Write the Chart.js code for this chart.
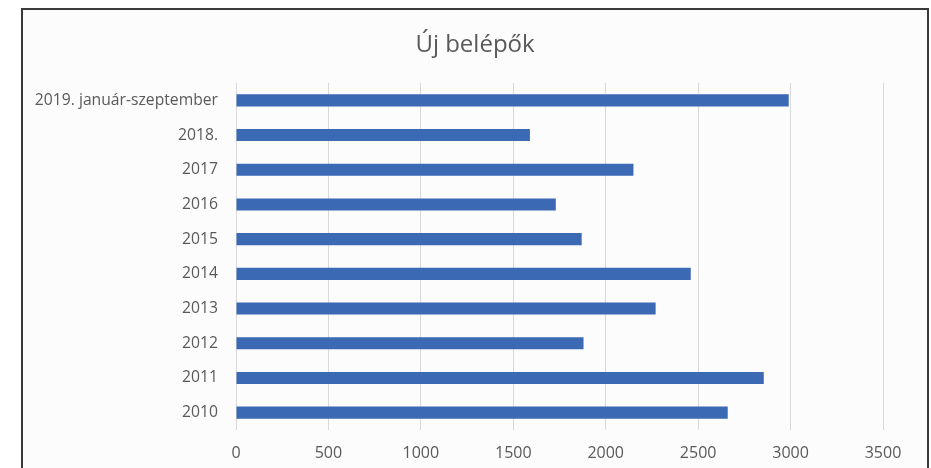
<!DOCTYPE html>
<html>
<head>
<meta charset="utf-8">
<script src="https://cdn.jsdelivr.net/npm/chart.js@4"></script>
<style>
  html,body{margin:0;padding:0;background:#fff;width:931px;height:468px;overflow:hidden}
  #frame{position:absolute;left:21px;top:8px;width:904px;height:460px;
    border:2px solid #3a3a3a;border-bottom:none;background:#fcfcfc}
  #chart{display:block}
</style>
</head>
<body>
<div id="frame"><canvas id="chart" width="904" height="458"></canvas></div>
<script>
const categories = ['2019. január-szeptember','2018.','2017','2016','2015','2014','2013','2012','2011','2010'];
const belepok = [2990, 1590, 2150, 1730, 1870, 2460, 2270, 1880, 2855, 2660];
const xTicks = [0, 500, 1000, 1500, 2000, 2500, 3000, 3500];

const FONT = '"Open Sans", sans-serif';
const GRAY = '#595959';

new Chart(document.getElementById('chart'), {
  type: 'bar',
  data: {
    labels: categories,
    datasets: [{
      label: 'Új belépők',
      data: belepok,
      backgroundColor: '#3b69b4',
      borderWidth: 0,
      categoryPercentage: 1,
      barPercentage: 0.35
    }]
  },
  options: {
    indexAxis: 'y',
    responsive: false,
    animation: false,
    plugins: {
      legend: { display: false },
      tooltip: { enabled: false },
      title: {
        display: true,
        text: 'Új belépők',
        color: GRAY,
        font: { family: FONT, size: 24, weight: 'normal', lineHeight: 1.2 },
        padding: { top: 20.6, bottom: 23.6 }
      }
    },
    scales: {
      x: {
        min: xTicks[0],
        max: xTicks[xTicks.length - 1],
        afterBuildTicks: s => { s.ticks = xTicks.map(v => ({ value: v })); },
        afterFit: s => { s.height = 38; },
        grid: { color: '#d9d9d9', drawTicks: false },
        border: { display: false },
        ticks: {
          color: GRAY, padding: 13.4, maxRotation: 0,
          font: { family: FONT, size: 16 },
          callback: v => String(v)
        }
      },
      y: {
        afterFit: s => { s.width = 213; },
        grid: { display: false, drawTicks: false },
        border: { display: false },
        ticks: { color: GRAY, padding: 18, font: { family: FONT, size: 15.7 }, autoSkip: false }
      },
      // empty right-hand axis, keeps the right margin so the title stays centred on the canvas
      yRight: {
        type: 'linear',
        position: 'right',
        afterFit: s => { s.width = 44; },
        grid: { display: false, drawTicks: false },
        border: { display: false },
        ticks: { display: false }
      }
    }
  }
});
</script>
</body>
</html>
